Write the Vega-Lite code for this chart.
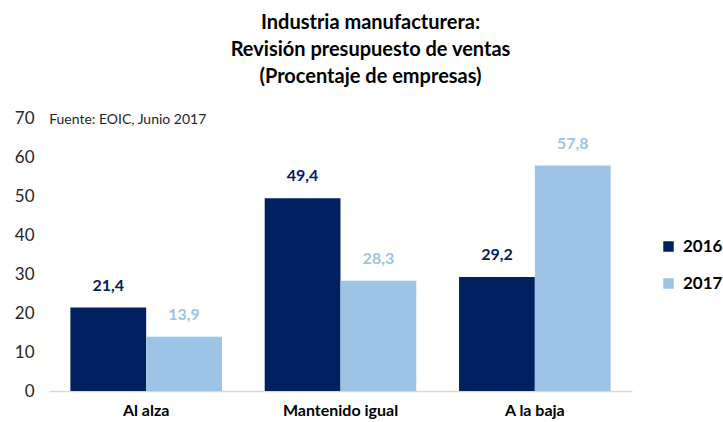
{
  "$schema": "https://vega.github.io/schema/vega-lite/v6.json",
  "autosize": {"type": "none"},
  "width": 583,
  "height": 273,
  "padding": {"left": 49, "top": 118, "right": 91, "bottom": 31},
  "background": "white",
  "config": {"view": {"stroke": null}},
  "title": {
    "text": ["Industria manufacturera:", "Revisión presupuesto  de ventas", "(Procentaje de empresas)"],
    "font": "Lato",
    "fontSize": 20,
    "fontWeight": "bold",
    "color": "#000000",
    "lineHeight": 27,
    "anchor": "middle",
    "dx": 30,
    "offset": 22
  },
  "data": {
    "values": [
      {"cat": "Al alza", "year": "2016", "value": 21.4, "label": "21,4"},
      {"cat": "Al alza", "year": "2017", "value": 13.9, "label": "13,9"},
      {"cat": "Mantenido igual", "year": "2016", "value": 49.4, "label": "49,4"},
      {"cat": "Mantenido igual", "year": "2017", "value": 28.3, "label": "28,3"},
      {"cat": "A la baja", "year": "2016", "value": 29.2, "label": "29,2"},
      {"cat": "A la baja", "year": "2017", "value": 57.8, "label": "57,8"}
    ]
  },
  "encoding": {
    "x": {
      "field": "cat",
      "type": "nominal",
      "sort": ["Al alza", "Mantenido igual", "A la baja"],
      "scale": {"paddingInner": 0.22, "paddingOuter": 0.11},
      "axis": {
        "title": null,
        "labelAngle": 0,
        "labelFont": "Lato",
        "labelFontSize": 16,
        "labelFontWeight": "bold",
        "labelColor": "#000000",
        "labelPadding": 11,
        "ticks": false,
        "domainColor": "#D9D9D9",
        "domainWidth": 1.5
      }
    },
    "y": {
      "field": "value",
      "type": "quantitative",
      "scale": {"domain": [0, 70]},
      "axis": {
        "title": null,
        "values": [0, 10, 20, 30, 40, 50, 60, 70],
        "grid": false,
        "domain": false,
        "ticks": false,
        "labelFont": "Lato",
        "labelFontSize": 17,
        "labelColor": "#262626",
        "labelPadding": 15
      }
    },
    "xOffset": {"field": "year", "type": "nominal", "scale": {"paddingInner": 0, "paddingOuter": 0}}
  },
  "layer": [
    {
      "mark": {"type": "bar"},
      "encoding": {
        "color": {
          "field": "year",
          "type": "nominal",
          "scale": {"domain": ["2016", "2017"], "range": ["#002060", "#9DC3E6"]},
          "legend": {
            "title": null,
            "orient": "none",
            "legendX": 611,
            "legendY": 120,
            "symbolType": "square",
            "symbolSize": 110,
            "symbolStrokeWidth": 0,
            "labelFont": "Lato",
            "labelFontSize": 17,
            "labelFontWeight": "bold",
            "labelColor": "#000000",
            "rowPadding": 19,
            "labelOffset": 6
          }
        }
      }
    },
    {
      "mark": {"type": "text", "dy": -14, "baseline": "bottom", "font": "Lato", "fontSize": 16, "fontWeight": "bold"},
      "encoding": {
        "text": {"field": "label"},
        "color": {
          "field": "year",
          "type": "nominal",
          "scale": {"domain": ["2016", "2017"], "range": ["#1F3864", "#9DC3E6"]},
          "legend": null
        }
      }
    },
    {
      "data": {"values": [{"note": "Fuente: EOIC, Junio 2017", "cat": "Al alza", "value": 70}]},
      "mark": {"type": "text", "align": "left", "baseline": "middle", "dx": -97, "dy": 2, "font": "Lato", "fontSize": 14, "color": "#262626"},
      "encoding": {
        "text": {"field": "note"},
        "x": {"field": "cat", "type": "nominal"},
        "y": {"field": "value", "type": "quantitative"},
        "xOffset": null
      }
    }
  ]
}
